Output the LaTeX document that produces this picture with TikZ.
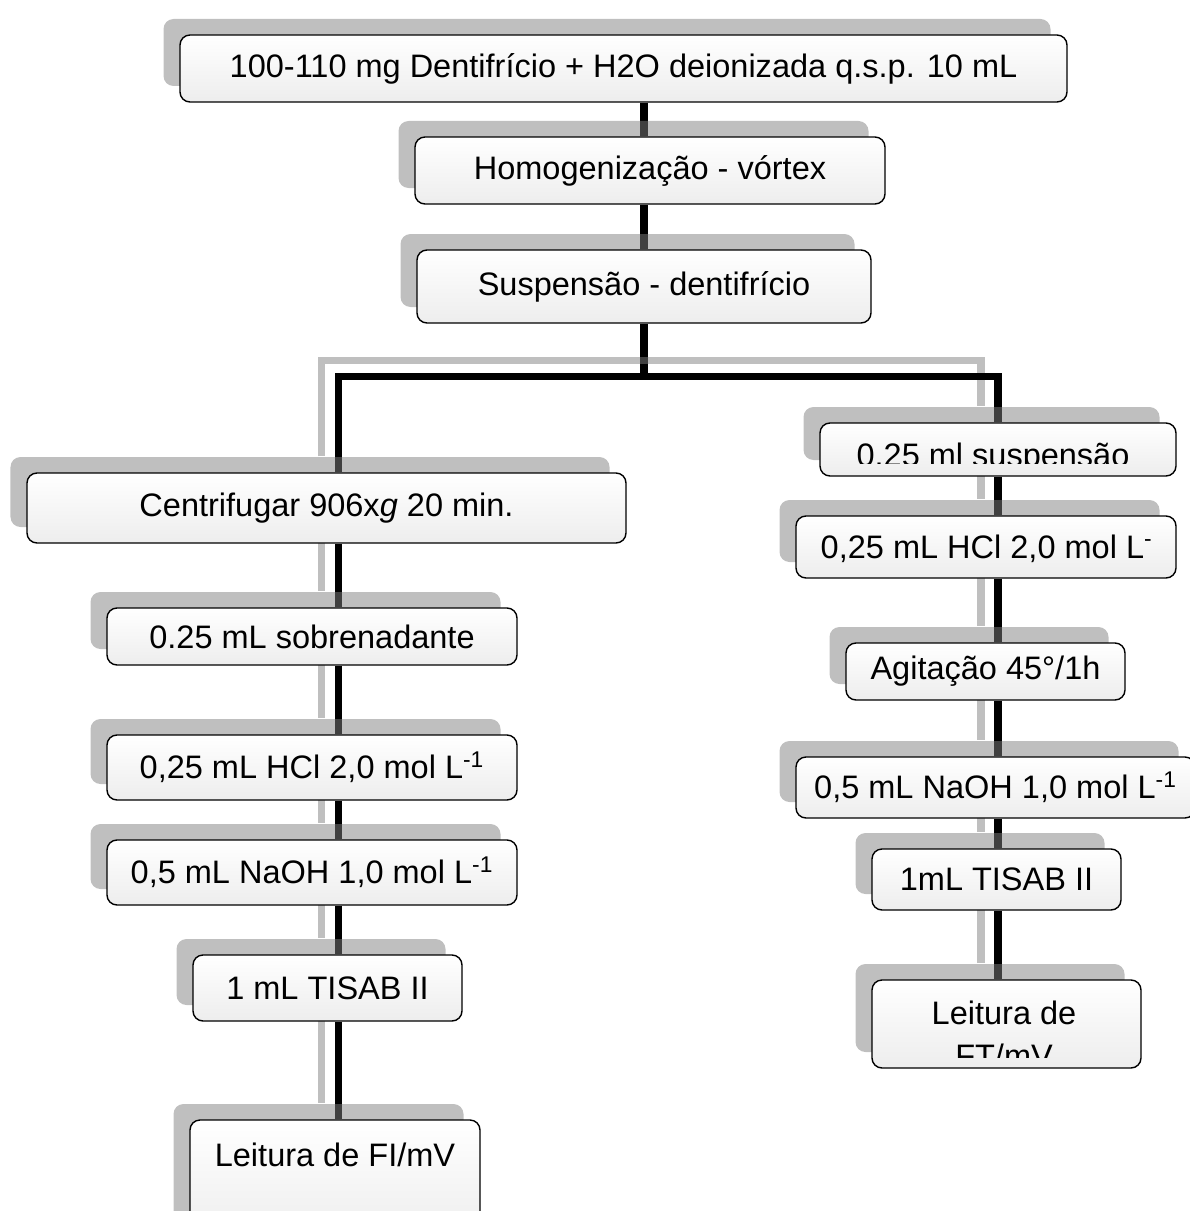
\documentclass[tikz,border=0pt]{standalone}
\usepackage{fontspec}
\setmainfont{Liberation Sans}
\usetikzlibrary{shadows,backgrounds}

\begin{document}
\begin{tikzpicture}[every node/.style={font=\fontsize{18.5}{25}\selectfont},
    stepbox/.style={rectangle, rounded corners=0.2cm, draw=black, line width=0.8pt,
        top color=white, bottom color=black!7, inner sep=2pt,
        drop shadow={shadow xshift=-0.33cm, shadow yshift=0.32cm}},
    trunk/.style={line width=0.15cm},
    branch/.style={line width=0.15cm, line join=miter,
        preaction={draw=black!50, draw opacity=.5, line width=0.15cm, line join=miter,
            transform canvas={xshift=-0.34cm, yshift=0.32cm}}}]
\useasboundingbox (0,0) rectangle (23.78,-24.22);
% Preparo da suspensao
\node[stepbox, minimum width=17.74cm, minimum height=1.34cm] (top) at (12.47,-1.37) {100-110 mg Dentifrício + H2O deionizada q.s.p. 10 mL};
\node[stepbox, minimum width=9.40cm, minimum height=1.34cm] (homo) at (13.00,-3.41) {Homogenização - vórtex};
\node[stepbox, minimum width=9.08cm, minimum height=1.46cm] (susp) at (12.88,-5.73) {Suspensão - dentifrício};
% Ramo esquerdo: fluoreto ionico
\node[stepbox, minimum width=11.98cm, minimum height=1.40cm] (cent) at (6.53,-10.16) {Centrifugar 906x\textit{g} 20 min.};
\node[stepbox, minimum width=8.20cm, minimum height=1.14cm] (sobr) at (6.24,-12.73) {0.25 mL sobrenadante};
\node[stepbox, minimum width=8.20cm, minimum height=1.30cm] (hclL) at (6.24,-15.35) {0,25 mL HCl 2,0 mol L\textsuperscript{-1}};
\node[stepbox, minimum width=8.20cm, minimum height=1.30cm] (naohL) at (6.24,-17.45) {0,5 mL NaOH 1,0 mol L\textsuperscript{-1}};
\node[stepbox, minimum width=5.38cm, minimum height=1.32cm] (tisL) at (6.55,-19.76) {1 mL TISAB II};
\node[stepbox, minimum width=5.80cm, minimum height=2.40cm, path picture={
    \node[anchor=base] (leitLtxt) at ([yshift=-0.92cm]path picture bounding box.north) {Leitura de FI/mV};
}] (leitL) at (6.70,-23.60) {};
% Ramo direito: fluoreto total
\node[stepbox, minimum width=7.12cm, minimum height=1.06cm, path picture={
    \clip ([shift={(0.26,0.26)}]path picture bounding box.south west) rectangle ([shift={(-0.26,-0.26)}]path picture bounding box.north east);
    \node[anchor=base] (suspRtxt) at ([xshift=-0.1cm, yshift=-0.33cm]path picture bounding box.center) {0.25 ml suspensão};
}] (suspR) at (19.96,-8.99) {};
\node[stepbox, minimum width=7.60cm, minimum height=1.24cm, path picture={
    \clip ([shift={(0.26,0.2)}]path picture bounding box.south west) rectangle ([shift={(-0.50,-0.2)}]path picture bounding box.north east);
    \node[anchor=base] (hclRtxt) at ([xshift=0.14cm, yshift=-0.22cm]path picture bounding box.center) {0,25 mL HCl 2,0 mol L\textsuperscript{-1}};
}] (hclR) at (19.72,-10.94) {};
\node[stepbox, minimum width=5.58cm, minimum height=1.14cm] (agit) at (19.71,-13.43) {Agitação 45°/1h};
\node[stepbox, minimum width=7.98cm, minimum height=1.22cm] (naohR) at (19.91,-15.75) {0,5 mL NaOH 1,0 mol L\textsuperscript{-1}};
\node[stepbox, minimum width=4.98cm, minimum height=1.22cm] (tisR) at (19.93,-17.59) {1mL TISAB II};
\node[stepbox, minimum width=5.38cm, minimum height=1.76cm, path picture={
    \clip ([shift={(0.2,0.22)}]path picture bounding box.south west) rectangle ([shift={(-0.2,-0.2)}]path picture bounding box.north east);
    \node[anchor=base] (leitRtxt1) at ([xshift=-0.05cm]path picture bounding box.center) {Leitura de};
    \node[anchor=base] (leitRtxt2) at ([xshift=-0.05cm, yshift=-0.86cm]path picture bounding box.center) {FT/mV};
}] (leitR) at (20.13,-20.48) {};
% Ligacoes
\coordinate (busC) at (12.88,-7.53);
\coordinate (busL) at (6.77,-7.53);
\coordinate (busR) at (19.96,-7.53);
\begin{scope}[on background layer]
\draw[trunk] (top.south -| busC) -- (homo.north -| busC);
\draw[trunk] (homo.south -| busC) -- (susp.north -| busC);
\draw[trunk] (susp.south -| busC) -- (busC);
\draw[branch] (cent.north -| busL) -- (busL) -- (busR) -- (suspR.north -| busR);
\draw[branch] (cent.south -| busL) -- (sobr.north -| busL);
\draw[branch] (sobr.south -| busL) -- (hclL.north -| busL);
\draw[branch] (hclL.south -| busL) -- (naohL.north -| busL);
\draw[branch] (naohL.south -| busL) -- (tisL.north -| busL);
\draw[branch] (tisL.south -| busL) -- (leitL.north -| busL);
\draw[branch] (suspR.south -| busR) -- (hclR.north -| busR);
\draw[branch] (hclR.south -| busR) -- (agit.north -| busR);
\draw[branch] (agit.south -| busR) -- (naohR.north -| busR);
\draw[branch] (naohR.south -| busR) -- (tisR.north -| busR);
\draw[branch] (tisR.south -| busR) -- (leitR.north -| busR);
\end{scope}
\end{tikzpicture}
\end{document}
